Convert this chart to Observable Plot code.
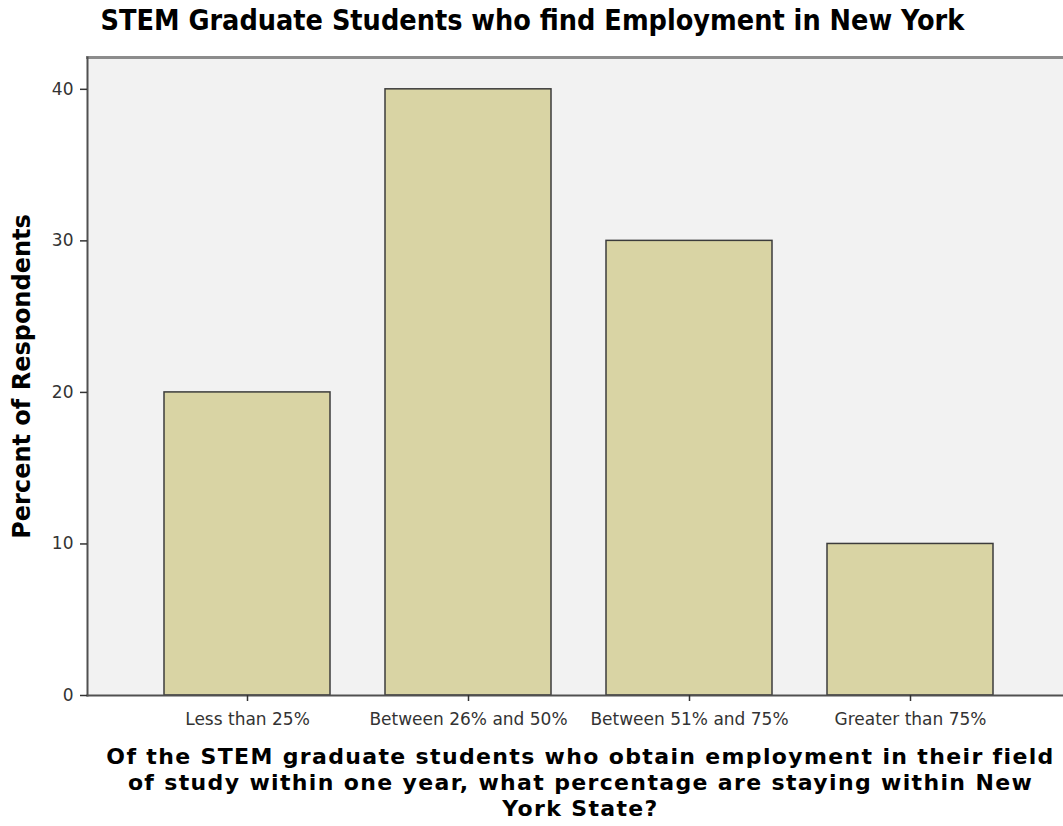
<!DOCTYPE html>
<html><head><meta charset="utf-8">
<script src="https://cdn.jsdelivr.net/npm/d3@7"></script>
<script src="https://cdn.jsdelivr.net/npm/@observablehq/plot@0.6"></script>
<style>
body{margin:0;background:#fff;}
#wrap{width:1063px;height:826px;overflow:hidden;}
</style></head><body><div id="wrap"></div>
<script>
const categories = ["Less than 25%", "Between 26% and 50%", "Between 51% and 75%", "Greater than 75%"];
const percents = [20, 40, 30, 10];
const yTicks = [0, 10, 20, 30, 40];
const titleText = "STEM Graduate Students who find Employment in New York";
const yLabelText = "Percent of Respondents";
const xLabelText = "Of the STEM graduate students who obtain employment in their field\nof study within one year, what percentage are staying within New\nYork State?";

const data = categories.map((c, i) => ({category: c, percent: percents[i]}));

const chart = Plot.plot({
  width: 1063, height: 826,
  marginLeft: 87, marginRight: 0, marginTop: 57, marginBottom: 131,
  style: {fontFamily: "DejaVu Sans", background: "#fff", overflow: "visible"},
  x: {domain: categories, range: [164, 993], paddingInner: 0.25, paddingOuter: 0, label: null},
  y: {domain: [0, 42.1], label: null},
  marks: [
    Plot.frame({fill: "#f2f2f2", stroke: null}),
    Plot.frame({anchor: "top", stroke: "#8c8c8c", strokeWidth: 3}),
    Plot.barY(data, {x: "category", y: "percent", fill: "#d9d4a4", stroke: "#3c3c3c", strokeWidth: 1.5}),
    Plot.frame({anchor: "left", stroke: "#505050", strokeWidth: 2}),
    Plot.frame({anchor: "bottom", stroke: "#505050", strokeWidth: 2}),
    Plot.axisY({ticks: yTicks, tickSize: 7, tickPadding: 7, fontSize: 17, stroke: "#333", strokeWidth: 1.5, color: "#333", label: null}),
    Plot.axisX({tickSize: 6, tickPadding: 11, fontSize: 17, stroke: "#333", strokeWidth: 1.5, color: "#333", label: null}),
    Plot.text([titleText], {frameAnchor: "top-left", dx: 13, dy: -37, textAnchor: "start", lineAnchor: "middle",
      fontSize: 28.5, fontWeight: "bold", fontFamily: "DejaVu Sans Condensed", fill: "#000"}),
    Plot.text([yLabelText], {frameAnchor: "left", dx: -65, rotate: -90, textAnchor: "middle", lineAnchor: "middle",
      fontSize: 24, fontWeight: "bold", fill: "#000"}),
    Plot.text([xLabelText], {frameAnchor: "bottom", dx: 5, dy: 86, textAnchor: "middle", lineAnchor: "middle",
      lineHeight: 1.182, fontSize: 22, fontWeight: "bold", fill: "#000", style: "letter-spacing:1.35px"})
  ]
});
d3.select(chart).selectAll("text").filter(function() { return this.textContent.startsWith("Of the STEM"); })
  .style("letter-spacing", "1.35px");
document.getElementById("wrap").appendChild(chart);
</script>
</body></html>
